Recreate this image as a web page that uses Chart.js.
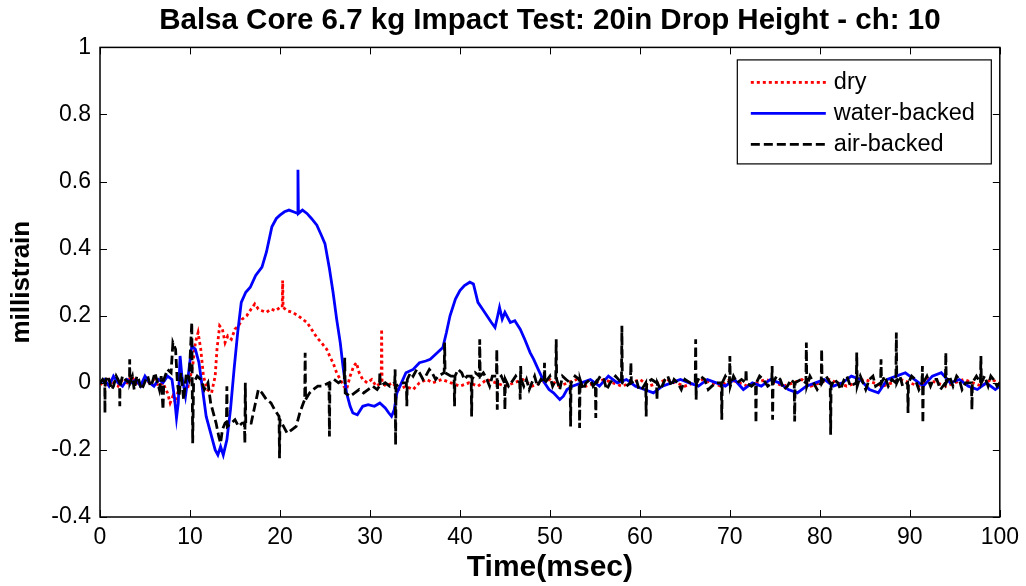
<!DOCTYPE html>
<html><head><meta charset="utf-8">
<script src="https://cdn.jsdelivr.net/npm/chart.js@4/dist/chart.umd.min.js"></script>
<style>html,body{margin:0;padding:0;background:#fff;}</style>
</head><body>
<canvas id="c" width="1026" height="586"></canvas>
<script>
const titleText = 'Balsa Core 6.7 kg Impact Test: 20in Drop Height - ch: 10';
const xLabel = 'Time(msec)';
const yLabel = 'millistrain';
const seriesNames = ['dry', 'water-backed', 'air-backed'];
const xTicks = [0, 10, 20, 30, 40, 50, 60, 70, 80, 90, 100];
const yTicks = [-0.4, -0.2, 0, 0.2, 0.4, 0.6, 0.8, 1];

// [time (msec), millistrain]
const dryData = [
[0,0],[0.5,-0.01],[1,0.01],[1.5,0],[2,-0.01],[2.5,0.01],[3,0],[3.5,0.02],[4,0],[4.5,-0.01],[5,0.01],[5.5,0],[6,0.01],[6.5,-0.01],[7,0],[7.5,-0.03],[7.8,-0.06],[8.1,-0.04],[8.4,-0.06],[8.8,-0.01],[9.3,0],[9.8,-0.01],[10.3,0.05],[10.6,0.12],[10.9,0.15],[11.2,0.1],[11.5,0.02],[11.9,-0.02],[12.4,-0.03],[12.8,0.02],[13,0.1],[13.3,0.17],[13.6,0.16],[13.9,0.12],[14.2,0.14],[14.6,0.13],[15,0.16],[15.4,0.17],[15.8,0.19],[16.3,0.2],[16.8,0.22],[17.2,0.235],[17.6,0.22],[18,0.215],[18.5,0.21],[19,0.22],[19.5,0.215],[20,0.225],[20.25,0.225],[20.3,0.305],[20.35,0.225],[20.8,0.215],[21.4,0.21],[22,0.2],[22.5,0.19],[23,0.18],[23.5,0.16],[24.1,0.135],[24.6,0.12],[25.2,0.1],[25.6,0.075],[25.9,0.06],[26.3,0.03],[26.7,0.01],[27.1,-0.01],[27.4,-0.02],[27.8,0.02],[28.2,0.05],[28.5,0.06],[28.8,0.03],[29.2,0.01],[29.7,0],[30.2,0.01],[30.7,-0.01],[31.25,0],[31.3,0.16],[31.35,0],[31.8,-0.01],[32.5,0],[33.2,-0.02],[34,-0.01],[34.8,-0.02],[35.5,0],[36.3,0.01],[37,0],[38,0.01],[39,0],[40,-0.01],[41,0],[42,-0.01],[43,0.01],[44,0],[45,-0.01],[46,0],[47,0.01],[48,-0.01],[49,0],[50,0.01],[51,-0.01],[52,0],[53,0.01],[54,-0.01],[55,0],[56,0.01],[57,0],[58,-0.01],[59,0],[60,0.01],[61,-0.01],[62,0],[63,0.01],[64,0],[65,-0.01],[66,0],[67,0.01],[68,0],[69,-0.01],[70,0.01],[71,0],[72,-0.01],[73,0],[74,0.01],[75,0],[76,-0.01],[77,0],[78,0.01],[79,-0.01],[80,0],[81,0.01],[82,0],[83,-0.01],[84,0],[85,0.01],[86,0],[87,-0.01],[88,0],[89,0.01],[90,0],[91,-0.01],[92,0.01],[93,0],[94,-0.01],[95,0],[96,0.01],[97,0],[98,-0.01],[99,0.01],[100,0]
];

const waterData = [
[0,0],[0.5,0.01],[1,-0.01],[1.5,0.02],[2,0],[2.5,-0.01],[3,0.01],[3.5,0],[4,0.01],[4.5,-0.01],[5,0.02],[5.5,0],[6,-0.01],[6.5,0.01],[7,0],[7.5,0.02],[8,0.01],[8.3,-0.05],[8.5,-0.105],[8.7,-0.06],[8.9,0.08],[9.1,0.02],[9.5,-0.04],[9.8,0.02],[10.2,0.11],[10.6,0.1],[11,0.06],[11.4,-0.02],[11.8,-0.1],[12.3,-0.15],[12.8,-0.2],[13.1,-0.215],[13.4,-0.19],[13.7,-0.215],[14.1,-0.17],[14.5,-0.08],[14.9,0.04],[15.3,0.15],[15.7,0.24],[16.2,0.27],[16.7,0.285],[17.3,0.32],[18,0.345],[18.5,0.39],[19.1,0.465],[19.6,0.49],[20,0.5],[20.5,0.51],[21,0.515],[21.5,0.51],[21.95,0.505],[22,0.635],[22.05,0.505],[22.5,0.515],[23,0.505],[23.5,0.49],[24.1,0.47],[24.6,0.44],[25,0.415],[25.5,0.34],[25.9,0.27],[26.3,0.19],[26.7,0.12],[27,0.05],[27.4,-0.03],[27.8,-0.07],[28.1,-0.09],[28.6,-0.095],[29.2,-0.07],[29.8,-0.065],[30.5,-0.07],[31.1,-0.06],[31.7,-0.075],[32.1,-0.09],[32.4,-0.1],[32.7,-0.08],[33,-0.03],[33.5,0],[34,0.03],[34.8,0.04],[35.5,0.06],[36.2,0.065],[36.7,0.07],[37.3,0.085],[38.1,0.105],[38.5,0.15],[38.9,0.2],[39.5,0.25],[40,0.275],[40.5,0.29],[41.1,0.3],[41.5,0.295],[42,0.24],[42.5,0.22],[43,0.2],[43.5,0.18],[43.9,0.165],[44.2,0.2],[44.4,0.225],[44.7,0.19],[45,0.21],[45.6,0.18],[46.1,0.185],[46.7,0.16],[47.2,0.13],[47.8,0.09],[48.2,0.07],[48.7,0.04],[49.4,0],[49.9,-0.02],[50.4,-0.03],[51.1,-0.05],[51.5,-0.04],[51.9,-0.02],[52.5,-0.01],[53.5,0],[54.5,0.01],[55.5,-0.01],[56.5,0.02],[57.5,0],[58.5,0.01],[59.5,-0.01],[60.5,-0.02],[61.5,-0.03],[62.5,-0.01],[63.5,0],[64.5,0.01],[65.5,0],[66.5,-0.01],[67.5,0.01],[68.5,0],[69.5,-0.01],[70.5,0.01],[71.5,-0.02],[72.5,0],[73.5,-0.01],[74.5,0.01],[75.5,0],[76.5,-0.02],[77.5,-0.03],[78.5,-0.01],[79.5,0],[80.5,0.01],[81.5,-0.01],[82.5,0],[83.5,0.02],[84.5,0.01],[85.5,-0.02],[86.5,-0.03],[87.5,0.01],[88.5,0.02],[89.5,0.03],[90.5,0.01],[91.5,-0.01],[92.5,0.02],[93.5,0.03],[94.5,0],[95.5,0.01],[96.5,-0.01],[97.5,-0.02],[98.5,0],[99.5,-0.02],[100,-0.01]
];

const airData = [
[0,0],[0.3,0.01],[0.53,0],[0.55,-0.09],[0.57,0],[0.8,0.02],[1,0.01],[1.3,-0.02],[1.5,-0.01],[1.8,0.02],[2,0.01],[2.18,0],[2.2,-0.07],[2.22,-0.01],[2.5,0.02],[2.8,0.01],[3.28,0],[3.3,0.07],[3.32,0],[3.6,0.02],[3.8,-0.02],[4.1,0.02],[4.3,0.01],[4.6,-0.02],[4.8,-0.01],[5.1,0.01],[5.3,0.02],[5.6,-0.01],[5.8,0],[6.1,0.03],[6.3,0.01],[6.6,-0.02],[6.8,0.02],[7,-0.08],[7.1,0.01],[7.5,0.04],[7.9,0.03],[8.1,0.12],[8.4,0.1],[8.6,0],[8.8,-0.04],[9,0.03],[9.3,-0.05],[9.6,0.03],[9.9,0.01],[10.2,0.18],[10.3,-0.18],[10.4,0],[10.8,0.02],[11.2,0.01],[11.6,-0.02],[12,0],[12.3,-0.06],[12.6,-0.09],[12.9,-0.12],[13.2,-0.16],[13.4,-0.18],[13.6,-0.14],[13.9,-0.12],[14.05,-0.12],[14.1,-0.01],[14.15,-0.13],[14.6,-0.12],[15,-0.11],[15.4,-0.13],[15.8,-0.12],[16.05,-0.12],[16.1,-0.18],[16.15,0],[16.2,-0.12],[16.8,-0.12],[17.2,-0.07],[17.6,-0.02],[18,-0.03],[18.5,-0.05],[19,-0.06],[19.4,-0.08],[19.9,-0.1],[19.95,-0.225],[20,-0.11],[20.4,-0.13],[20.8,-0.15],[21.3,-0.14],[21.8,-0.13],[22.2,-0.09],[22.6,-0.06],[22.75,-0.05],[22.8,0.09],[22.85,-0.05],[23.3,-0.03],[23.7,-0.02],[24.2,-0.01],[24.7,-0.01],[25.45,0],[25.5,-0.16],[25.55,0],[26,0.01],[26.5,0],[27,0.01],[27.15,0.01],[27.2,0.075],[27.25,-0.03],[27.8,-0.04],[28.3,-0.03],[28.8,-0.02],[29.3,-0.03],[29.8,-0.02],[30.3,-0.01],[30.8,-0.02],[31.05,-0.01],[31.1,0.03],[31.15,-0.01],[31.7,0],[32.2,-0.01],[32.75,0],[32.8,0.04],[32.85,-0.185],[32.9,-0.01],[33.5,0],[34.05,0],[34.1,-0.07],[34.15,0.01],[34.5,0.03],[34.8,0.02],[35.2,0.04],[35.5,0.03],[35.9,0.01],[36.2,0.02],[36.6,0.04],[36.9,0.03],[37.3,0.01],[37.6,0.02],[38.25,0.03],[38.3,0.12],[38.35,0.03],[39,0.02],[39.35,0.02],[39.4,-0.07],[39.45,0.02],[39.8,0.04],[40.2,0.03],[40.5,0.01],[40.8,0.02],[41.25,0.02],[41.3,-0.1],[41.35,0.01],[41.7,0.03],[42.15,0.02],[42.2,0.13],[42.25,0.02],[42.6,0.03],[43,0.01],[43.3,-0.01],[43.6,0.02],[44.05,0.02],[44.1,0.1],[44.15,-0.08],[44.2,0.01],[44.6,0.02],[44.95,0],[45,-0.08],[45.05,0.01],[45.4,-0.01],[45.7,0],[46.2,0.02],[46.65,0],[46.7,-0.05],[46.75,0.05],[46.8,0.01],[47.1,-0.01],[47.4,0.01],[47.7,-0.02],[48,0],[48.3,0.02],[48.6,-0.01],[49,0.01],[49.35,0],[49.4,0.06],[49.45,0],[50,0.02],[50.3,-0.01],[50.65,0.01],[50.7,0.13],[50.75,0.01],[51.1,-0.02],[51.4,0.02],[51.8,0.01],[52.25,0],[52.3,-0.13],[52.35,0],[52.8,0.02],[53.25,0.01],[53.3,-0.135],[53.35,0.01],[53.7,-0.02],[54,0],[54.5,0.01],[54.8,-0.01],[55.05,0],[55.1,-0.105],[55.15,0],[55.6,0.02],[56,0.01],[56.3,-0.02],[56.7,0],[57.3,0.02],[57.95,0],[58,0.17],[58.05,0],[58.5,-0.01],[58.95,0],[59,0.06],[59.05,0],[59.6,0.01],[59.9,-0.02],[60.2,-0.02],[60.65,0],[60.7,-0.1],[60.75,0],[61.3,0.01],[61.85,0],[61.9,-0.05],[61.95,0],[62.3,-0.02],[62.8,0.01],[63.1,0.02],[63.5,-0.01],[63.8,0.01],[64.2,0],[64.6,-0.02],[65,0.01],[65.6,0],[66.15,0],[66.2,0.13],[66.25,-0.05],[66.3,0],[66.7,0.02],[67.2,0.01],[67.6,-0.02],[68,-0.01],[68.5,0],[69.05,0],[69.1,-0.11],[69.15,0],[69.5,0.02],[69.95,0],[70,0.08],[70.05,-0.01],[70.4,0.02],[70.8,0],[71.3,0.01],[71.75,0],[71.8,0.04],[71.85,0],[72.4,-0.01],[72.85,0],[72.9,-0.12],[72.95,0],[73.3,0.02],[73.7,0.01],[74.2,-0.01],[74.65,0],[74.7,0.05],[74.75,-0.11],[74.8,0],[75.2,0.02],[75.6,0.01],[76,-0.02],[76.4,-0.01],[76.8,0.01],[77.15,0],[77.2,-0.115],[77.25,0],[77.9,0.01],[78.45,0],[78.5,0.12],[78.55,-0.01],[78.9,0.02],[79.3,0],[79.7,-0.02],[80.15,0],[80.2,0.1],[80.25,0],[80.7,0.02],[81.15,0],[81.2,-0.155],[81.25,-0.01],[81.6,0.01],[82,0],[82.3,-0.02],[82.7,0.01],[83,0.02],[83.4,-0.01],[84.05,0],[84.1,0.09],[84.15,-0.01],[84.5,0.02],[84.8,0],[85.1,-0.02],[85.5,0.01],[85.9,0.02],[86.2,-0.01],[86.75,0],[86.8,0.07],[86.85,0],[87.2,0.02],[87.6,-0.01],[88,0.01],[88.45,0],[88.5,0.15],[88.55,0],[88.9,0.02],[89.2,-0.01],[89.75,0],[89.8,-0.09],[89.85,0],[90.2,0.02],[90.6,0.01],[91,-0.02],[91.35,0],[91.4,0.05],[91.45,-0.12],[91.5,0],[91.9,0.02],[92.3,-0.01],[92.6,0.01],[93,0.01],[93.4,-0.02],[93.95,0],[94,0.09],[94.05,0],[94.4,0.02],[94.8,-0.01],[95.2,0.02],[95.5,0.01],[95.8,-0.02],[96.2,0],[96.85,0],[96.9,-0.08],[96.95,0],[97.4,0.02],[97.85,0],[97.9,0.08],[97.95,0],[98.3,0.02],[98.7,-0.01],[99,0.02],[99.3,0.01],[99.7,-0.01],[100,0]
];

const seriesData = [dryData, waterData, airData];
const seriesColors = ['#ff0000', '#0000ff', '#000000'];
const seriesDash = [[3, 3], [], [9, 4]];
const seriesOrder = [3, 2, 1];

const FONT = '"Liberation Sans", Arial, Helvetica, sans-serif';
const TICK = 7;

const frameAndLegend = {
  id: 'frameAndLegend',
  afterDraw(chart) {
    const ctx = chart.ctx;
    const {left, top, right, bottom} = chart.chartArea;
    const xs = chart.scales.x, ys = chart.scales.y;
    ctx.save();
    ctx.setLineDash([]);
    ctx.strokeStyle = '#000';
    ctx.lineWidth = 1.5;
    ctx.strokeRect(left, top, right - left, bottom - top);
    ctx.beginPath();
    xTicks.forEach(v => {
      const p = Math.round(xs.getPixelForValue(v)) + 0.5;
      ctx.moveTo(p, bottom); ctx.lineTo(p, bottom - TICK);
      ctx.moveTo(p, top); ctx.lineTo(p, top + TICK);
    });
    yTicks.forEach(v => {
      const p = Math.round(ys.getPixelForValue(v)) + 0.5;
      ctx.moveTo(left, p); ctx.lineTo(left + TICK, p);
      ctx.moveTo(right, p); ctx.lineTo(right - TICK, p);
    });
    ctx.lineWidth = 1;
    ctx.stroke();

    // legend box
    const lw = 254, lh = 104;
    const lx = right - 263, ly = top + 12;
    ctx.fillStyle = '#fff';
    ctx.fillRect(lx, ly, lw, lh);
    ctx.lineWidth = 1.2;
    ctx.strokeStyle = '#000';
    ctx.strokeRect(lx + 0.5, ly + 0.5, lw, lh);
    ctx.font = '23.5px ' + FONT;
    ctx.textBaseline = 'middle';
    ctx.textAlign = 'left';
    chart.data.datasets.forEach((ds, i) => {
      const yy = ly + 23 + i * 31;
      ctx.beginPath();
      ctx.setLineDash(ds.borderDash || []);
      ctx.strokeStyle = ds.borderColor;
      ctx.lineWidth = ds.borderWidth;
      ctx.moveTo(lx + 14, yy); ctx.lineTo(lx + 89, yy);
      ctx.stroke();
      ctx.setLineDash([]);
      ctx.fillStyle = '#000';
      ctx.fillText(ds.label, lx + 97, yy);
    });
    ctx.restore();
  }
};

new Chart(document.getElementById('c'), {
  type: 'line',
  data: {
    datasets: seriesNames.map((name, i) => ({
      label: name,
      data: seriesData[i].map(p => ({x: p[0], y: p[1]})),
      borderColor: seriesColors[i],
      backgroundColor: seriesColors[i],
      borderWidth: 2.8,
      borderDash: seriesDash[i],
      pointRadius: 0,
      tension: 0,
      fill: false,
      order: seriesOrder[i]
    }))
  },
  options: {
    responsive: false,
    animation: false,
    devicePixelRatio: 1,
    layout: {padding: {left: 0, right: 25, top: 0, bottom: 0}},
    plugins: {
      legend: {display: false},
      tooltip: {enabled: false},
      title: {
        display: true,
        fullSize: false,
        text: titleText,
        color: '#000',
        font: {family: FONT, size: 29.5, weight: 'bold'},
        padding: {top: 3, bottom: 9}
      }
    },
    scales: {
      x: {
        type: 'linear', min: 0, max: 100,
        afterBuildTicks: s => { s.ticks = xTicks.map(v => ({value: v})); },
        afterFit: s => { s.height = 69; },
        ticks: {color: '#000', font: {family: FONT, size: 23}, padding: 7, maxRotation: 0, autoSkip: false},
        grid: {display: false, drawTicks: false},
        border: {display: false},
        title: {display: true, text: xLabel, color: '#000', font: {family: FONT, size: 30, weight: 'bold'}, padding: {top: 0, bottom: 0}}
      },
      y: {
        type: 'linear', min: -0.4, max: 1,
        afterBuildTicks: s => { s.ticks = yTicks.map(v => ({value: v})); },
        afterFit: s => { s.width = 100; },
        ticks: {color: '#000', font: {family: FONT, size: 23}, padding: 9, callback: v => String(Math.round(v * 10) / 10)},
        grid: {display: false, drawTicks: false},
        border: {display: false},
        title: {display: true, text: yLabel, color: '#000', font: {family: FONT, size: 26, weight: 'bold'}, padding: {top: 6, bottom: 0}}
      }
    }
  },
  plugins: [frameAndLegend]
});
</script>
</body></html>
